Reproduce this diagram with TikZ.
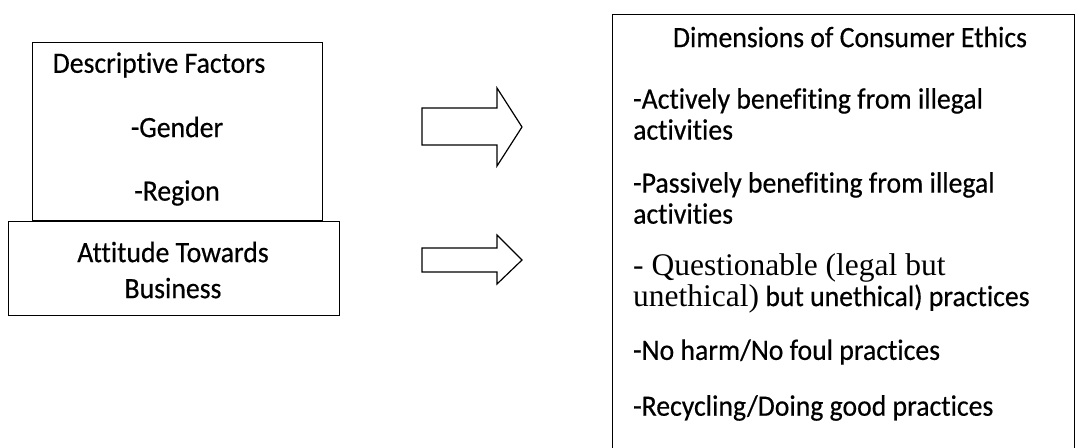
\documentclass[tikz,border=0pt]{standalone}
\usepackage{fontspec}
\setmainfont{Carlito}[FakeStretch=0.94, FakeBold=0.45, Ligatures=NoCommon]
\newfontfamily\serifpart{Liberation Serif}
\usetikzlibrary{positioning}
\tikzset{
	frame/.style={draw, rectangle, line width=1.4pt, anchor=north west, inner sep=0pt},
	txt/.style={font=\fontsize{29.5}{31}\selectfont, inner sep=0pt},
	item/.style={txt, anchor=west, align=left},
	blockarrow/.style={draw, line width=1.2pt, line join=miter}
}

\begin{document}
\begin{tikzpicture}[x=1pt, y=-1pt]
	\useasboundingbox (0,0) rectangle (1075,447);
	
	% left boxes
	\node[frame, minimum width=290pt, minimum height=178pt] (desc) at (32,42) {};
	\node[frame, minimum width=331pt, minimum height=94pt, fill=white] (att) at (8,221) {};
	
	\node[txt] (desct) at (159,65) {Descriptive Factors};
	\node[txt] (gen) at (177,127) {-Gender};
	\node[txt] (reg) at (177,193) {-Region};
	\node[txt, align=center, font=\fontsize{29.5}{36}\selectfont] (attt) at (173,270) {Attitude Towards\\Business};
	
	% right box
	\node[frame, minimum width=462pt, minimum height=460pt] (dim) at (612,14) {};
	\node[txt] (dimt) at (850,37) {Dimensions of Consumer Ethics};
	\node[item] (i1) at (633,114) {-Actively benefiting from illegal\\activities};
	\node[item] (i2) at (633,198) {-Passively benefiting from illegal\\activities};
	\node[item] (i3) at (633,283) {{\serifpart\fontsize{31.5}{31}\selectfont - Questionable (legal but}\\{\serifpart\fontsize{31.5}{31}\selectfont unethical)} but unethical) practices};
	\node[item] (i4) at (633,352) {-No harm/No foul practices};
	\node[item] (i5) at (633,408) {-Recycling/Doing good practices};
	
	% block arrows
	\draw[blockarrow] (422,108) -- (497,108) -- (497,88) -- (522,127)
		-- (497,166) -- (497,145) -- (422,145) -- cycle;
	\draw[blockarrow] (422,248) -- (497,248) -- (497,235) -- (522,260)
		-- (497,284) -- (497,272) -- (422,272) -- cycle;
	
\end{tikzpicture}
\end{document}
